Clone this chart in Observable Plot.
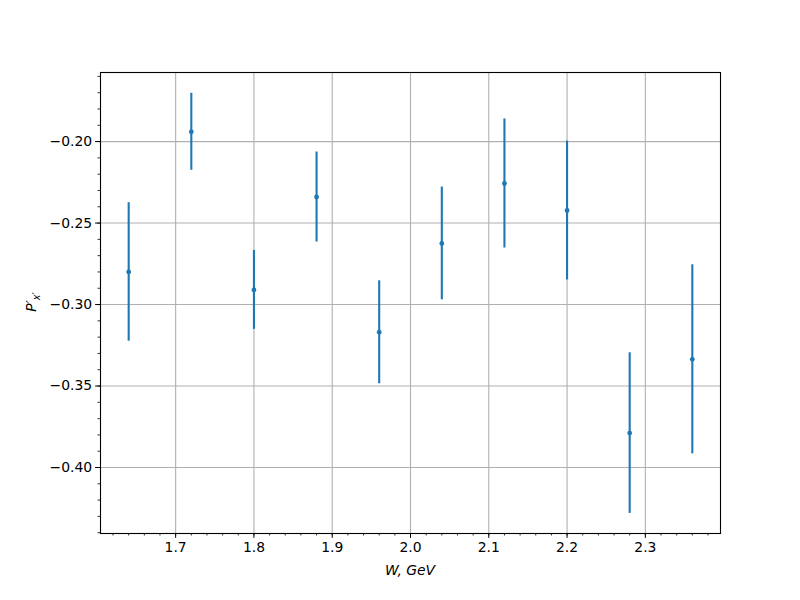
<!DOCTYPE html>
<html><head><meta charset="utf-8">
<script src="https://cdn.jsdelivr.net/npm/d3@7"></script>
<script src="https://cdn.jsdelivr.net/npm/@observablehq/plot@0.6"></script>
<style>body{margin:0;background:#fff} svg{font-family:"DejaVu Sans",sans-serif}</style>
</head><body><div id="chart"></div>
<script>
const W = [1.64, 1.72, 1.80, 1.88, 1.96, 2.04, 2.12, 2.20, 2.28, 2.36];
const P = [-0.280, -0.194, -0.291, -0.234, -0.317, -0.2625, -0.2257, -0.2423, -0.3789, -0.3336];
const E = [0.0425, 0.0236, 0.0242, 0.0276, 0.0316, 0.0346, 0.0396, 0.0426, 0.0493, 0.058];
const xTicks = [1.7, 1.8, 1.9, 2.0, 2.1, 2.2, 2.3];
const yTicks = [-0.20, -0.25, -0.30, -0.35, -0.40];
const xMinor = d3.range(1.62, 2.39, 0.02).map(v => +v.toFixed(2));
const yMinor = d3.range(-0.44, -0.159, 0.01).map(v => +v.toFixed(2));
const data = W.map((w, i) => ({w, p: P[i], lo: P[i] - E[i], hi: P[i] + E[i]}));
const color = "#1f77b4";

const chart = Plot.plot({
  width: 800, height: 600,
  marginLeft: 100, marginRight: 80, marginTop: 72, marginBottom: 67,
  style: {fontFamily: "DejaVu Sans, sans-serif", fontSize: "13.9px", color: "#000", background: "#fff"},
  x: {domain: [1.604, 2.396]},
  y: {domain: [-0.4405, -0.1576]},
  marks: [
    Plot.gridX(xTicks, {stroke: "#b0b0b0", strokeOpacity: 1, strokeWidth: 1.1}),
    Plot.gridY(yTicks, {stroke: "#b0b0b0", strokeOpacity: 1, strokeWidth: 1.1}),
    Plot.ruleX(data, {x: "w", y1: "lo", y2: "hi", stroke: color, strokeWidth: 2.1}),
    Plot.dot(data, {x: "w", y: "p", r: 2.4, fill: color, stroke: "none"}),
    Plot.axisX(xMinor, {tickSize: 2.5, tickFormat: () => "", label: null, strokeWidth: 0.8}),
    Plot.axisY(yMinor, {tickSize: 2.5, tickFormat: () => "", label: null, strokeWidth: 0.8}),
    Plot.axisX(xTicks, {tickSize: 4.9, tickPadding: 3.5, tickFormat: d => d.toFixed(1), label: null, fontSize: 13.9, strokeWidth: 1}),
    Plot.axisY(yTicks, {tickSize: 4.9, tickPadding: 3.5, tickFormat: d => "\u2212" + Math.abs(d).toFixed(2), label: null, fontSize: 13.9, strokeWidth: 1}),
    Plot.frame({stroke: "#000", strokeWidth: 1.1})
  ]
});
document.getElementById("chart").appendChild(chart);

const svg = d3.select(chart);
svg.append("text")
  .attr("x", 410).attr("y", 575)
  .attr("text-anchor", "middle")
  .style("font-size", "13.9px").style("font-style", "italic")
  .text("W, GeV");
const yl = svg.append("text")
  .attr("transform", "translate(36,302) rotate(-90)")
  .attr("text-anchor", "middle")
  .style("font-size", "13.9px").style("font-style", "italic");
yl.append("tspan").text("P\u2032");
yl.append("tspan").attr("dy", 4).style("font-size", "9.7px").text("x\u2032");
</script></body></html>
